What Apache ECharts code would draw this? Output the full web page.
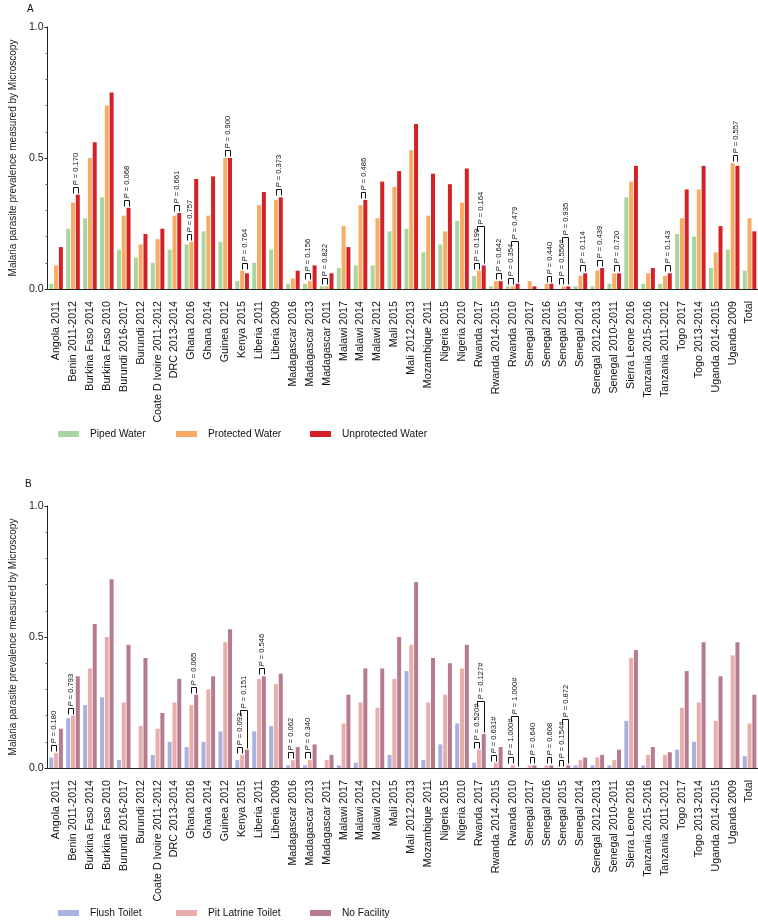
<!DOCTYPE html>
<html><head><meta charset="utf-8">
<script src="https://cdn.jsdelivr.net/npm/echarts@6/dist/echarts.min.js"></script>
<style>html,body{margin:0;padding:0;background:#fff}#c{width:758px;height:922px}</style>
</head><body><div id="c"></div>
<script>
const categories = ['Angola 2011','Benin 2011-2012','Burkina Faso 2014','Burkina Faso 2010','Burundi 2016-2017','Burundi 2012','Coate D Ivoire 2011-2012','DRC 2013-2014','Ghana 2016','Ghana 2014','Guinea 2012','Kenya 2015','Liberia 2011','Liberia 2009','Madagascar 2016','Madagascar 2013','Madagascar 2011','Malawi 2017','Malawi 2014','Malawi 2012','Mali 2015','Mali 2012-2013','Mozambique 2011','Nigeria 2015','Nigeria 2010','Rwanda 2017','Rwanda 2014-2015','Rwanda 2010','Senegal 2017','Senegal 2016','Senegal 2015','Senegal 2014','Senegal 2012-2013','Senegal 2010-2011','Sierra Leone 2016','Tanzania 2015-2016','Tanzania 2011-2012','Togo 2017','Togo 2013-2014','Uganda 2014-2015','Uganda 2009','Total'];

// Panel A: water source
const pipedWater       = [0.02,0.23,0.27,0.35,0.15,0.12,0.10,0.15,0.17,0.22,0.18,0.03,0.10,0.15,0.02,0.02,0.01,0.08,0.09,0.09,0.22,0.23,0.14,0.17,0.26,0.05,0.01,0.01,0.00,0.00,0.00,0.01,0.01,0.02,0.35,0.02,0.02,0.21,0.20,0.08,0.15,0.07];
const protectedWater   = [0.09,0.33,0.50,0.70,0.28,0.17,0.19,0.28,0.18,0.28,0.50,0.07,0.32,0.34,0.04,0.03,0.01,0.24,0.32,0.27,0.39,0.53,0.28,0.22,0.33,0.07,0.03,0.01,0.03,0.02,0.01,0.05,0.07,0.06,0.41,0.06,0.05,0.27,0.38,0.14,0.48,0.27];
const unprotectedWater = [0.16,0.36,0.56,0.75,0.31,0.21,0.23,0.29,0.42,0.43,0.50,0.06,0.37,0.35,0.07,0.09,0.06,0.16,0.34,0.41,0.45,0.63,0.44,0.40,0.46,0.09,0.03,0.02,0.01,0.02,0.01,0.06,0.08,0.06,0.47,0.08,0.06,0.38,0.47,0.24,0.47,0.22];

// Panel B: toilet facility
const flushToilet = [0.04,0.19,0.24,0.27,0.03,0.00,0.05,0.10,0.08,0.10,0.14,0.03,0.14,0.16,0.01,0.01,0.00,0.01,0.02,0.00,0.05,0.37,0.03,0.09,0.17,0.02,0.00,0.00,0.00,0.00,0.00,0.01,0.01,0.01,0.18,0.01,0.00,0.07,0.10,0.00,0.00,0.045];
const pitLatrine  = [0.057,0.20,0.38,0.50,0.25,0.16,0.15,0.25,0.24,0.30,0.48,0.05,0.34,0.32,0.03,0.03,0.03,0.17,0.25,0.23,0.34,0.47,0.25,0.28,0.38,0.07,0.02,0.01,0.01,0.01,0.00,0.03,0.04,0.03,0.42,0.05,0.05,0.23,0.25,0.18,0.43,0.17];
const noFacility  = [0.15,0.35,0.55,0.72,0.47,0.42,0.21,0.34,0.28,0.35,0.53,0.07,0.35,0.36,0.08,0.09,0.05,0.28,0.38,0.38,0.50,0.71,0.42,0.40,0.47,0.13,0.08,0.00,0.01,0.01,0.01,0.04,0.05,0.07,0.45,0.08,0.06,0.37,0.48,0.35,0.48,0.28];

const yTickValues = [0, 0.5, 1.0];

// P-value brackets: [category, barA, barB, p(bracket A-B), p(second bracket to bar 3)]
const annotA = [
 ['Benin 2011-2012',1,2,'0.170'],['Burundi 2016-2017',1,2,'0.068'],['DRC 2013-2014',1,2,'0.661'],
 ['Ghana 2016',0,1,'0.757'],['Guinea 2012',1,2,'0.900'],['Kenya 2015',1,2,'0.764'],
 ['Liberia 2009',1,2,'0.373'],['Madagascar 2013',0,1,'0.156'],['Madagascar 2011',0,1,'0.822'],
 ['Malawi 2014',1,2,'0.486'],['Rwanda 2017',0,1,'0.199','0.164'],['Rwanda 2014-2015',1,2,'0.642'],
 ['Rwanda 2010',0,1,'0.354','0.479'],['Senegal 2016',1,2,'0.440'],['Senegal 2015',0,1,'0.556#','0.935'],
 ['Senegal 2014',1,2,'0.114'],['Senegal 2012-2013',1,2,'0.439'],['Senegal 2010-2011',1,2,'0.720'],
 ['Tanzania 2011-2012',1,2,'0.143'],['Uganda 2009',1,2,'0.557']
];
const annotB = [
 ['Angola 2011',0,1,'0.180'],['Benin 2011-2012',0,1,'0.793'],['Ghana 2016',1,2,'0.065'],
 ['Kenya 2015',0,1,'0.092','0.151'],['Liberia 2011',1,2,'0.546'],['Madagascar 2016',0,1,'0.062'],
 ['Madagascar 2013',0,1,'0.340'],['Rwanda 2017',0,1,'0.520#','0.127#'],['Rwanda 2014-2015',0,1,'0.631#'],
 ['Rwanda 2010',0,1,'1.000#','1.000#'],['Senegal 2017',1,2,'0.640'],['Senegal 2016',1,2,'0.608'],
 ['Senegal 2015',0,1,'0.154#','0.872']
];

const FONT = 'Liberation Sans, Arial, Helvetica, sans-serif';
const BW = 4, GAPR = 0.2;
const PFS = 7.6;
const colA = ['#a9d6a0','#f6ac62','#d42127'];
const colB = ['#a8b1e0','#e9aeaa','#b77b8f'];

const mctx = document.createElement('canvas').getContext('2d');
function textW(t){ mctx.font = PFS + 'px ' + FONT; return mctx.measureText(t).width; }

function makeRender(vals, ann){
  return function(params, api){
    const a = ann[params.dataIndex];
    const ci = categories.indexOf(a[0]);
    const step = BW*(1+GAPR);
    const off = [-step, 0, step];
    const cx = api.coord([ci, 0])[0];
    const top = k => api.coord([ci, vals[k][ci]])[1];
    const px = v => Math.round(v) + 0.5;
    const x1 = px(cx + off[a[1]]), x2 = px(cx + off[a[2]]);
    const yLeg = Math.round(Math.min(top(a[1]), top(a[2])) - 2) + 0.5;
    const yLine = yLeg - 6;
    const ch = [];
    const mk = (t, x, y) => ({type:'text', x:x, y:y, rotation:Math.PI/2,
      style:{text:'{i|P}{n| = '+t+'}', rich:{i:{fontStyle:'italic',fontSize:PFS,fontFamily:FONT,fill:'#111'},n:{fontSize:PFS,fontFamily:FONT,fill:'#111'}},
        fontSize:PFS, fontFamily:FONT, fill:'#111', align:'left', verticalAlign:'middle', textAlign:'left', textVerticalAlign:'middle'}});
    ch.push({type:'polyline', shape:{points:[[x1,yLeg],[x1,yLine],[x2,yLine],[x2,yLeg]]}, style:{stroke:'#111', lineWidth:1, fill:null}});
    const xm = (x1+x2)/2;
    ch.push(mk(a[3], xm, yLine - 2));
    if (a[4]) {
      const xa = px(xm), xb = px(cx + off[2]);
      const yLine2 = Math.round(yLine - 2 - textW('P = '+a[3]) - 3) + 0.5;
      const yLeg3 = Math.round(top(2) - 2) + 0.5;
      ch.push({type:'polyline', shape:{points:[[xa,yLine2+5],[xa,yLine2],[xb,yLine2],[xb,yLeg3]]}, style:{stroke:'#111', lineWidth:1, fill:null}});
      ch.push(mk(a[4], (xa+xb)/2, yLine2 - 2));
    }
    return {type:'group', children:ch};
  };
}

const chart = echarts.init(document.getElementById('c'));
const yTitle = 'Malaria parasite prevalence measured by Microscopy';
function yAxis(g){
  return {gridIndex:g, type:'value', min:yTickValues[0], max:yTickValues[2], interval:yTickValues[1]-yTickValues[0],
    axisLine:{show:true, lineStyle:{color:'#222', width:1}},
    axisTick:{show:true, length:3, lineStyle:{color:'#222'}},
    minorTick:{show:true, splitNumber:5, length:2, lineStyle:{color:'#555'}},
    splitLine:{show:false},
    axisLabel:{formatter:v=>v.toFixed(1), fontSize:10.6, color:'#222', margin:4, fontFamily:FONT},
    name:yTitle, nameLocation:'middle', nameGap:29, nameRotate:90,
    nameTextStyle:{fontSize:10, color:'#222', fontFamily:FONT}};
}
function xAxis(g){
  return {gridIndex:g, type:'category', data:categories,
    axisLine:{lineStyle:{color:'#222', width:1}},
    axisTick:{alignWithLabel:true, length:10, lineStyle:{color:'#222'}},
    axisLabel:{rotate:90, interval:0, fontSize:10.7, color:'#111', margin:12, fontFamily:FONT}};
}
function bar(name, data, g, color){
  return {name:name, type:'bar', xAxisIndex:g, yAxisIndex:g, data:data, barWidth:BW, barGap:(GAPR*100)+'%',
    itemStyle:{color:color}, silent:true};
}
const legBase = {itemWidth:21, itemHeight:6, icon:'rect', padding:0, selectedMode:false,
  textStyle:{fontSize:10.2, color:'#111', fontFamily:FONT, padding:[0,0,0,6]}};
function leg(name, left, top){ return Object.assign({}, legBase, {data:[name], left:left, top:top}); }

chart.setOption({
  animation:false,
  backgroundColor:'#fff',
  textStyle:{fontFamily:FONT},
  title:[
    {text:'A', left:27, top:4, padding:0, textStyle:{fontSize:10, fontWeight:'normal', color:'#111', fontFamily:FONT}},
    {text:'B', left:25, top:479, padding:0, textStyle:{fontSize:10, fontWeight:'normal', color:'#111', fontFamily:FONT}}
  ],
  legend:[
    leg('Piped Water',58,429), leg('Protected Water',176,429), leg('Unprotected Water',310,429),
    leg('Flush Toilet',58,908), leg('Pit Latrine Toilet',176,908), leg('No Facility',310,908)
  ],
  grid:[
    {left:40, right:0, top:27, height:262},
    {left:40, right:0, top:506, height:262}
  ],
  xAxis:[xAxis(0), xAxis(1)],
  yAxis:[yAxis(0), yAxis(1)],
  series:[
    bar('Piped Water', pipedWater, 0, colA[0]),
    bar('Protected Water', protectedWater, 0, colA[1]),
    bar('Unprotected Water', unprotectedWater, 0, colA[2]),
    bar('Flush Toilet', flushToilet, 1, colB[0]),
    bar('Pit Latrine Toilet', pitLatrine, 1, colB[1]),
    bar('No Facility', noFacility, 1, colB[2]),
    {type:'custom', xAxisIndex:0, yAxisIndex:0, silent:true, z:10, clip:false,
      data:annotA.map(a=>[categories.indexOf(a[0]), 0]), encode:{x:0,y:1},
      renderItem:makeRender([pipedWater, protectedWater, unprotectedWater], annotA)},
    {type:'custom', xAxisIndex:1, yAxisIndex:1, silent:true, z:10, clip:false,
      data:annotB.map(a=>[categories.indexOf(a[0]), 0]), encode:{x:0,y:1},
      renderItem:makeRender([flushToilet, pitLatrine, noFacility], annotB)}
  ]
});
</script></body></html>
